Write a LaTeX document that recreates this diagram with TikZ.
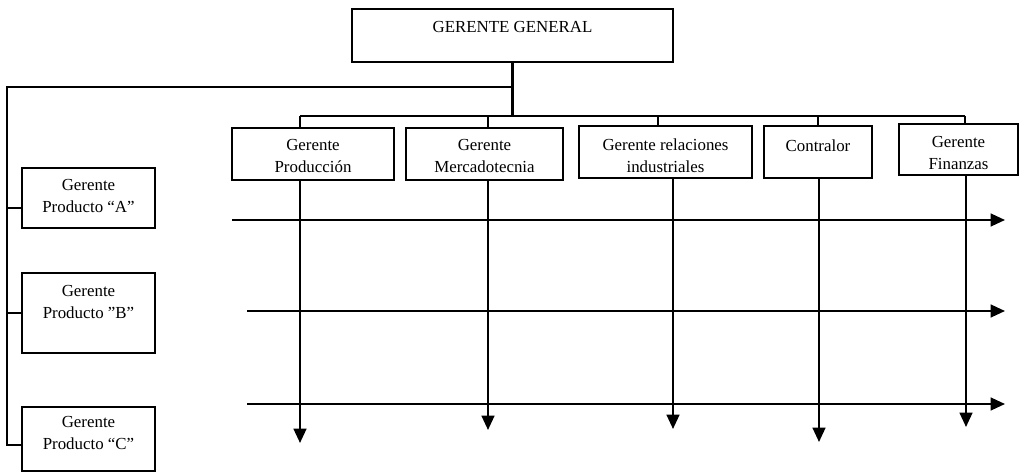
\documentclass[tikz,border=0pt]{standalone}
\usepackage{fontspec}
\setmainfont{Liberation Serif}
\usepackage{tikz}
\usetikzlibrary{arrows.meta,calc}

\begin{document}
\begin{tikzpicture}[x=0.025cm,y=-0.025cm,
  caja/.style={draw,line width=1.5pt,inner sep=0pt},
  rotulo/.style={align=center,inner sep=0pt,font=\fontsize{12}{15.6}\selectfont},
  linea/.style={line width=1.5pt},
  flecha/.style={line width=1.5pt,-{Triangle[width=0.32cm,length=0.36cm]}}]
\useasboundingbox (0,0) rectangle (1025,472);

\node[caja,minimum width=8.03cm,minimum height=1.33cm] (gg) at (512.5,35.5) {};
\node[rotulo] (ggt) at (512.5,27) {GERENTE GENERAL};

\node[caja,minimum width=4.05cm,minimum height=1.3cm] (prod) at (313,154) {};
\node[caja,minimum width=3.93cm,minimum height=1.3cm] (merc) at (484.5,154) {};
\node[caja,minimum width=4.33cm,minimum height=1.3cm] (rel) at (665.5,152) {};
\node[caja,minimum width=2.7cm,minimum height=1.3cm] (cont) at (818,152) {};
\node[caja,minimum width=2.98cm,minimum height=1.28cm] (fin) at (958.5,149.5) {};
\node[rotulo] (prodt) at (313,156) {Gerente\\Producción};
\node[rotulo] (merct) at (484.5,156) {Gerente\\Mercadotecnia};
\node[rotulo] (relt) at (665.5,156) {Gerente relaciones\\industriales};
\node[rotulo] (contt) at (818,146) {Contralor};
\node[rotulo] (fint) at (958.5,153) {Gerente\\Finanzas};

\node[caja,minimum width=3.33cm,minimum height=1.5cm] (pa) at (88.5,198) {};
\node[caja,minimum width=3.33cm,minimum height=2cm] (pb) at (88.5,313) {};
\node[caja,minimum width=3.33cm,minimum height=1.6cm] (pc) at (88.5,439) {};
\node[rotulo] (pat) at (88.5,196) {Gerente\\Producto “A”};
\node[rotulo] (pbt) at (88.5,302) {Gerente\\Producto ”B”};
\node[rotulo] (pct) at (88.5,433) {Gerente\\Producto “C”};

\coordinate (barra) at (513,87);
\coordinate (esq) at (7,87);
\coordinate (busi) at (300,116);
\coordinate (busd) at (965,116);
\coordinate (ea) at ([yshift=-0.25cm]pa.west);
\coordinate (ec) at ([yshift=-0.15cm]pc.west);
\draw[linea] (gg.south) -- (gg.south |- busi);
\draw[linea] (busi) -- (busd);
\draw[linea] (barra) -- (esq) |- (ec);
\draw[linea] (esq |- ea) -- (ea);
\draw[linea] (esq |- pb.west) -- (pb.west);

\foreach \x/\n in {300/prod,488/merc,658/rel,818/cont,965/fin}{
  \coordinate (t\n) at (\x,116);
  \draw[linea] (t\n) -- (t\n |- \n.north);
}

\foreach \y/\xi [count=\i] in {220/232,311/247,404/247}{
  \coordinate (h\i i) at (\xi,\y);
  \coordinate (h\i f) at (1005,\y);
  \draw[flecha] (h\i i) -- (h\i f);
}

\foreach \x/\n/\y in {300/prod/443,488/merc/430,673/rel/429,819/cont/442,966/fin/427}{
  \coordinate (s\n) at (\x,\y);
  \draw[flecha] (s\n |- \n.south) -- (s\n);
}
\end{tikzpicture}
\end{document}
